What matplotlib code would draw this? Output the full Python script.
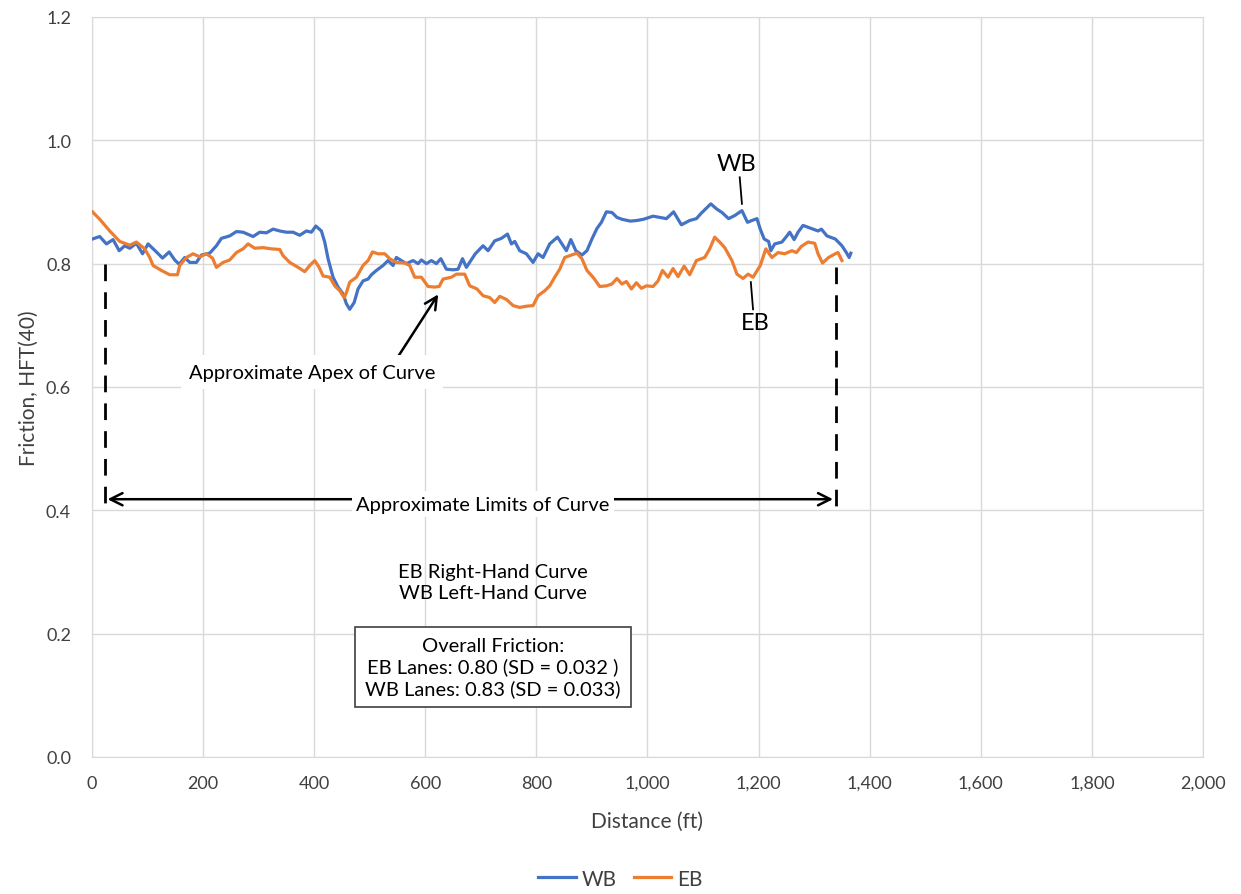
import matplotlib.pyplot as plt
from matplotlib.ticker import FuncFormatter

# friction profiles
wb_dist = [1, 14, 26, 38, 49, 59, 68, 80, 91, 101, 116, 127, 139, 149, 157, 167, 176, 188, 197, 212,
           224, 233, 248, 260, 272, 290, 302, 314, 326, 338, 350, 362, 374, 386, 395, 403, 413, 419,
           425, 434, 443, 452, 458, 464, 472, 479, 488, 497, 503, 512, 524, 533, 542, 548, 557, 566,
           578, 587, 593, 602, 611, 620, 628, 638, 650, 659, 667, 674, 690, 704, 713, 725, 737, 748,
           755, 761, 770, 782, 794, 803, 812, 824, 838, 846, 854, 862, 871, 882, 891, 900, 909, 917,
           926, 936, 945, 954, 969, 981, 993, 1010, 1022, 1034, 1047, 1061, 1076, 1088, 1097, 1114,
           1124, 1134, 1146, 1157, 1170, 1180, 1188, 1197, 1203, 1210, 1218, 1222, 1229, 1242, 1251,
           1256, 1264, 1271, 1280, 1295, 1307, 1313, 1323, 1338, 1350, 1358, 1363, 1366]
wb_fric = [0.840, 0.844, 0.832, 0.839, 0.821, 0.829, 0.825, 0.833, 0.816, 0.832, 0.819, 0.809, 0.819,
           0.806, 0.799, 0.810, 0.802, 0.802, 0.814, 0.817, 0.829, 0.841, 0.845, 0.852, 0.851, 0.844,
           0.851, 0.850, 0.856, 0.853, 0.851, 0.851, 0.846, 0.853, 0.851, 0.861, 0.853, 0.835, 0.808,
           0.778, 0.762, 0.751, 0.735, 0.726, 0.737, 0.759, 0.772, 0.775, 0.782, 0.789, 0.797, 0.805,
           0.797, 0.810, 0.805, 0.800, 0.805, 0.800, 0.806, 0.800, 0.805, 0.800, 0.808, 0.791, 0.790,
           0.791, 0.808, 0.794, 0.816, 0.829, 0.821, 0.837, 0.841, 0.848, 0.832, 0.836, 0.821, 0.816,
           0.802, 0.816, 0.810, 0.832, 0.843, 0.832, 0.821, 0.839, 0.821, 0.814, 0.821, 0.840, 0.857,
           0.867, 0.884, 0.883, 0.875, 0.872, 0.869, 0.870, 0.872, 0.877, 0.875, 0.873, 0.884, 0.863,
           0.870, 0.873, 0.882, 0.897, 0.889, 0.883, 0.873, 0.878, 0.886, 0.867, 0.870, 0.873, 0.856,
           0.840, 0.836, 0.821, 0.832, 0.835, 0.845, 0.851, 0.839, 0.851, 0.862, 0.857, 0.853, 0.856,
           0.845, 0.840, 0.829, 0.818, 0.810, 0.817]

eb_dist = [1, 14, 32, 50, 68, 80, 95, 104, 110, 125, 140, 154, 158, 170, 182, 194, 206, 217, 224, 236,
           248, 260, 272, 281, 293, 308, 323, 338, 344, 356, 371, 383, 392, 401, 409, 416, 428, 437,
           446, 454, 458, 464, 476, 488, 497, 505, 515, 527, 536, 548, 563, 572, 581, 593, 605, 617,
           625, 632, 647, 656, 671, 680, 693, 704, 716, 725, 734, 746, 758, 770, 782, 794, 803, 815,
           824, 833, 842, 851, 860, 873, 882, 891, 902, 914, 926, 936, 945, 954, 962, 971, 980, 989,
           998, 1010, 1019, 1027, 1037, 1046, 1055, 1066, 1076, 1088, 1103, 1112, 1121, 1130, 1139,
           1152, 1161, 1172, 1181, 1190, 1203, 1213, 1224, 1235, 1247, 1260, 1268, 1277, 1289, 1301,
           1307, 1315, 1326, 1338, 1343, 1350]
eb_fric = [0.884, 0.872, 0.853, 0.836, 0.830, 0.835, 0.824, 0.810, 0.797, 0.789, 0.782, 0.782, 0.797,
           0.810, 0.816, 0.811, 0.816, 0.809, 0.794, 0.802, 0.806, 0.818, 0.824, 0.832, 0.825, 0.826,
           0.824, 0.823, 0.813, 0.802, 0.794, 0.787, 0.797, 0.805, 0.794, 0.780, 0.778, 0.764, 0.756,
           0.745, 0.753, 0.770, 0.778, 0.797, 0.805, 0.819, 0.816, 0.816, 0.808, 0.802, 0.801, 0.797,
           0.778, 0.778, 0.763, 0.762, 0.763, 0.775, 0.778, 0.783, 0.783, 0.764, 0.759, 0.748, 0.745,
           0.737, 0.747, 0.742, 0.732, 0.729, 0.731, 0.732, 0.748, 0.756, 0.764, 0.778, 0.791, 0.810,
           0.813, 0.817, 0.808, 0.789, 0.778, 0.763, 0.764, 0.767, 0.776, 0.767, 0.771, 0.759, 0.769,
           0.760, 0.764, 0.763, 0.772, 0.789, 0.778, 0.792, 0.779, 0.796, 0.782, 0.805, 0.810, 0.824,
           0.843, 0.835, 0.826, 0.805, 0.783, 0.776, 0.783, 0.778, 0.797, 0.824, 0.810, 0.818, 0.816,
           0.821, 0.818, 0.828, 0.835, 0.833, 0.816, 0.801, 0.810, 0.816, 0.818, 0.805]

x_ticks = list(range(0, 2001, 200))
y_ticks = [0.0, 0.2, 0.4, 0.6, 0.8, 1.0, 1.2]

plt.rcParams['font.family'] = ['Lato', 'DejaVu Sans']
txt = '#404040'

fig = plt.figure(figsize=(12.41, 8.95), dpi=100)
ax = fig.add_axes([0.0741, 0.1531, 0.8953, 0.8268])

ax.plot(wb_dist, wb_fric, color='#4472C4', lw=2.3, label='WB', zorder=3)
ax.plot(eb_dist, eb_fric, color='#ED7D31', lw=2.3, label='EB', zorder=3)

ax.set_xlim(0, 2000)
ax.set_ylim(0, 1.2)
ax.set_xticks(x_ticks)
ax.set_yticks(y_ticks)
ax.xaxis.set_major_formatter(FuncFormatter(lambda v, p: f'{v:,.0f}'))
ax.yaxis.set_major_formatter(FuncFormatter(lambda v, p: f'{v:.1f}'))
ax.grid(True, color='#D9D9D9', lw=1.0, zorder=0)
ax.tick_params(length=0, labelsize=13, labelcolor=txt)
ax.tick_params(axis='x', pad=13)
ax.tick_params(axis='y', pad=15)
for s in ax.spines.values():
    s.set_color('#D9D9D9')
ax.set_xlabel('Distance (ft)', fontsize=15, color=txt, labelpad=14)
ax.set_ylabel('Friction, HFT(40)', fontsize=15, color=txt, labelpad=5)

# curve limits
ax.plot([23, 23], [0.8, 0.405], color='black', lw=2, ls=(0, (6, 4)), zorder=4)
ax.plot([1339, 1339], [0.795, 0.405], color='black', lw=2, ls=(0, (6, 4)), zorder=4)
ax.annotate('', xy=(23, 0.418), xytext=(1339, 0.418),
            arrowprops=dict(arrowstyle='<->', color='black', lw=1.8, mutation_scale=22), zorder=4)
ax.text(704, 0.41, 'Approximate Limits of Curve', ha='center', va='center', fontsize=14.5,
        color='black', bbox=dict(fc='white', ec='none', pad=3), zorder=5)

# apex
ax.annotate('', xy=(626, 0.754), xytext=(548, 0.645),
            arrowprops=dict(arrowstyle='->', color='black', lw=1.8, mutation_scale=22), zorder=4)
ax.text(396, 0.624, 'Approximate Apex of Curve', ha='center', va='center', fontsize=14.5,
        color='black', bbox=dict(fc='white', ec='none', pad=6), zorder=5)

# series labels
ax.text(1161, 0.962, 'WB', ha='center', va='center', fontsize=17, color='black')
ax.plot([1166, 1170], [0.940, 0.897], color='black', lw=1.3)
ax.text(1194, 0.705, 'EB', ha='center', va='center', fontsize=17, color='black')
ax.plot([1186, 1190], [0.770, 0.726], color='black', lw=1.3)

ax.text(722, 0.284, 'EB Right-Hand Curve\nWB Left-Hand Curve', ha='center', va='center',
        fontsize=14.5, color='black', linespacing=1.25)
ax.text(722, 0.146, 'Overall Friction:\nEB Lanes: 0.80 (SD = 0.032 )\nWB Lanes: 0.83 (SD = 0.033)',
        ha='center', va='center', fontsize=14.5, color='black', linespacing=1.25,
        bbox=dict(fc='white', ec='#404040', lw=1.2, boxstyle='square,pad=0.5'), zorder=5)

fig.legend(loc='center', bbox_to_anchor=(0.5, 0.017), ncol=2, frameon=False, fontsize=15,
           handlelength=1.8, columnspacing=0.8, handletextpad=0.3, labelcolor=txt)

fig.savefig('out.png', dpi=100)
